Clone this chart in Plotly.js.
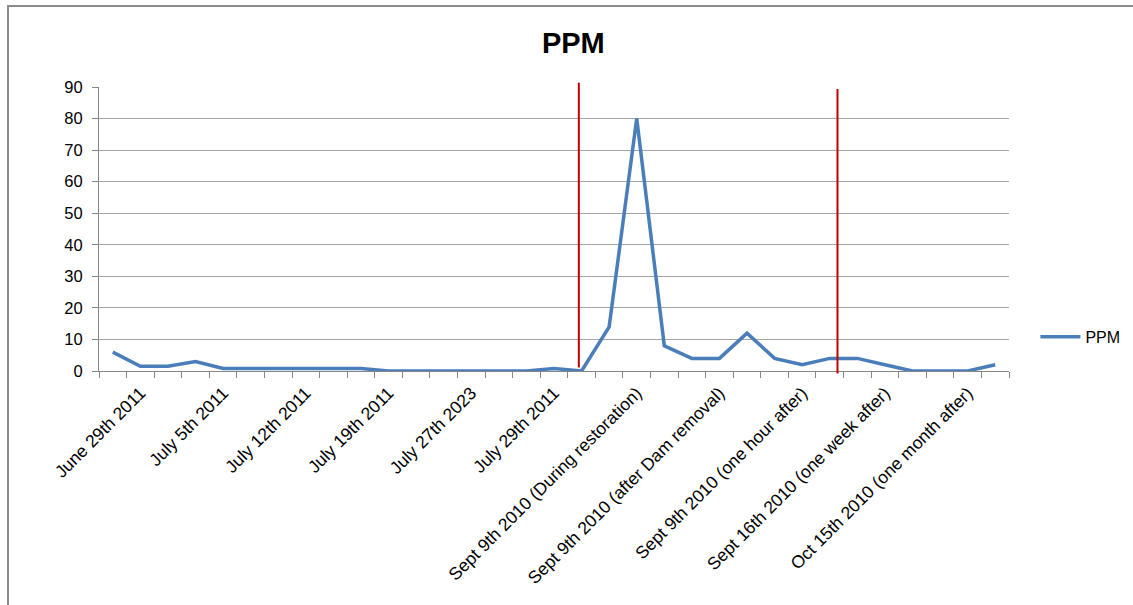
<!DOCTYPE html>
<html>
<head>
<meta charset="utf-8">
<script src="https://cdn.plot.ly/plotly-3.0.1.min.js"></script>
<style>
  html, body { margin: 0; padding: 0; background: #fff; }
  #wrap { position: relative; width: 1133px; height: 605px; overflow: hidden; }
  #chart { width: 1133px; height: 605px; }
  #frame { position: absolute; left: 7px; top: 5px; width: 1140px; height: 620px;
           border-left: 2px solid #8c8c8c; border-top: 2px solid #8c8c8c; pointer-events: none; }
</style>
</head>
<body>
<div id="wrap">
  <div id="chart"></div>
  <div id="frame"></div>
</div>
<script>
// Data (33 samples, labels shown on every third category)
const ppmValues = [6, 1.5, 1.5, 3, 0.8, 0.8, 0.8, 0.8, 0.8, 0.8, 0, 0, 0, 0, 0, 0, 0.8, 0,
                   14, 80, 8, 4, 4, 12, 4, 2, 4, 4, 2, 0, 0, 0, 2];
const labelPositions = [1, 4, 7, 10, 13, 16, 19, 22, 25, 28, 31];
const labelTexts = [
  "June 29th 2011",
  "July 5th 2011",
  "July 12th 2011",
  "July 19th 2011",
  "July 27th 2023",
  "July 29th 2011",
  "Sept 9th 2010 (During restoration)",
  "Sept 9th 2010 (after Dam removal)",
  "Sept 9th 2010 (one hour after)",
  "Sept 16th 2010 (one week after)",
  "Oct 15th 2010 (one month after)"
];
const seriesName = "PPM";
const markerLines = [16.9, 26.28]; // category-index positions of the red vertical lines

const xIdx = ppmValues.map((_, i) => i);
const boundaries = [];
for (let i = 0; i <= ppmValues.length; i++) boundaries.push(i - 0.5);

const FONT = "Liberation Sans, Arial, sans-serif";

const trace = {
  x: xIdx,
  y: ppmValues,
  type: "scatter",
  mode: "lines",
  name: seriesName,
  line: { color: "#4a7ebb", width: 3.5 },
  hoverinfo: "x+y"
};

const shapes = markerLines.map((xv, k) => ({
  type: "line",
  xref: "x", yref: "paper",
  x0: xv, x1: xv,
  y0: k === 0 ? 0.012 : -0.009,
  y1: k === 0 ? 1.015 : 0.993,
  line: { color: "#c00000", width: 2 },
  layer: "above"
}));

const layout = {
  width: 1133,
  height: 605,
  paper_bgcolor: "#ffffff",
  plot_bgcolor: "#ffffff",
  margin: { l: 99, r: 124, t: 87, b: 234, autoexpand: false },
  font: { family: FONT, color: "#000" },
  title: {
    text: "<b>PPM</b>",
    font: { family: FONT, size: 29, color: "#000" },
    x: 0.506, xanchor: "center",
    y: 0.93, yanchor: "middle"
  },
  showlegend: true,
  legend: {
    x: 1.029, xanchor: "left",
    y: 0.12, yanchor: "middle",
    font: { family: FONT, size: 16, color: "#000" },
    bgcolor: "rgba(0,0,0,0)",
    itemwidth: 40
  },
  xaxis: {
    range: [-0.5, ppmValues.length - 0.5],
    tickmode: "array",
    tickvals: labelPositions,
    ticktext: labelTexts,
    tickangle: -45,
    ticklen: 0,
    ticklabelstandoff: 4,
    tickfont: { family: FONT, size: 17.5, color: "#000" },
    showgrid: false,
    zeroline: false,
    showline: true,
    linecolor: "#868686",
    linewidth: 1,
    automargin: false,
    minor: {
      tickmode: "array",
      tickvals: boundaries,
      ticks: "outside",
      ticklen: 6,
      tickcolor: "#868686",
      tickwidth: 1,
      showgrid: false
    },
    fixedrange: true
  },
  yaxis: {
    range: [0, 90],
    dtick: 10,
    tick0: 0,
    ticks: "outside",
    ticklen: 6,
    ticklabelstandoff: 6,
    tickcolor: "#868686",
    tickfont: { family: FONT, size: 16.5, color: "#000" },
    showgrid: true,
    gridcolor: "#a6a6a6",
    gridwidth: 1,
    zeroline: false,
    showline: true,
    linecolor: "#868686",
    linewidth: 1,
    automargin: false,
    fixedrange: true
  },
  shapes: shapes
};

Plotly.newPlot("chart", [trace], layout, { displayModeBar: false, staticPlot: true });
</script>
</body>
</html>
